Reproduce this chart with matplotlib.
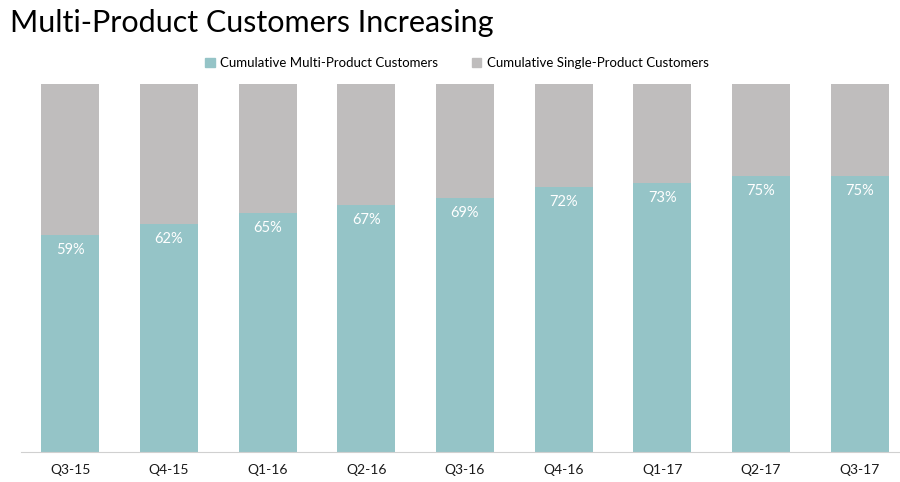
import numpy as np
import matplotlib.pyplot as plt
from matplotlib.patches import Patch

# ==========================
# DATA
# ==========================
quarters = ["Q3-15", "Q4-15", "Q1-16", "Q2-16", "Q3-16", "Q4-16", "Q1-17", "Q2-17", "Q3-17"]
multi_pct = [59, 62, 65, 67, 69, 72, 73, 75, 75]
single_pct = [100 - v for v in multi_pct]

TEAL = "#95c4c7"
GREY = "#bfbdbd"

plt.rcParams["font.family"] = ["Lato", "DejaVu Sans"]

fig = plt.figure(figsize=(9, 4.82), dpi=100)
ax = fig.add_axes([21 / 900, 30 / 482, 888 / 900, 368 / 482])

x = np.arange(len(quarters))
ax.bar(x, multi_pct, width=0.59, color=TEAL, zorder=2)
ax.bar(x, single_pct, bottom=multi_pct, width=0.59, color=GREY, zorder=2)

for xi, v in zip(x, multi_pct):
    ax.text(xi, v - 4.0, f"{v}%", ha="center", va="center", color="white", fontsize=10.5)

ax.set_xlim(-0.5, len(quarters) - 0.5)
ax.set_ylim(0, 100)
ax.set_xticks(x)
ax.set_xticklabels(quarters, fontsize=10, color="#1a1a1a")
ax.tick_params(axis="x", length=0, pad=9)
ax.set_yticks([])
for s in ["top", "right", "left"]:
    ax.spines[s].set_visible(False)
ax.spines["bottom"].set_color("#d0d0d0")

fig.text(10 / 900, 1 - 23 / 482, "Multi-Product Customers Increasing",
         fontsize=22, va="center", ha="left", color="black")

handles = [Patch(color=TEAL, label="Cumulative Multi-Product Customers"),
           Patch(color=GREY, label="Cumulative Single-Product Customers")]
fig.legend(handles=handles, loc="center", bbox_to_anchor=(457 / 900, 1 - 63 / 482),
           ncol=2, frameon=False, fontsize=9.5, handlelength=0.7, handleheight=0.7,
           handletextpad=0.4, columnspacing=2.6)

fig.savefig("out.png", dpi=100)
